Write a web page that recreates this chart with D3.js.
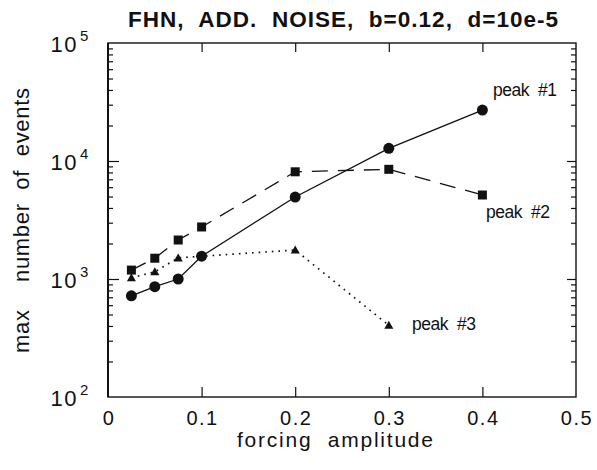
<!DOCTYPE html>
<html>
<head>
<meta charset="utf-8">
<script src="https://cdn.jsdelivr.net/npm/d3@7/dist/d3.min.js"></script>
<style>
  html, body { margin: 0; padding: 0; background: #fff; }
  svg { display: block; }
  text { font-family: "Liberation Sans", Arial, Helvetica, sans-serif; fill: #111; }
</style>
</head>
<body>
<svg id="chart" width="597" height="470"></svg>
<script>
// ---- data ----
const forcing = [0.025, 0.05, 0.075, 0.1, 0.2, 0.3, 0.4];
const peak1 = [720, 860, 1000, 1560, 4950, 12800, 27000];
const peak2 = [1190, 1500, 2140, 2760, 8100, 8500, 5150];
const forcing3 = [0.025, 0.05, 0.075, 0.1, 0.2, 0.3];
const peak3 = [1025, 1150, 1510, 1560, 1760, 405];
const xTicks = [0, 0.1, 0.2, 0.3, 0.4, 0.5];
const xTickLabels = ["0", "0.1", "0.2", "0.3", "0.4", "0.5"];
const yDecades = [100, 1000, 10000, 100000];
const yExponents = ["2", "3", "4", "5"];
const seriesNames = ["peak  #1", "peak  #2", "peak  #3"];
const titleText = "FHN,  ADD.  NOISE,  b=0.12,  d=10e-5";
const xLabel = "forcing  amplitude";
const yLabelA = "max";
const yLabelB = "number  of  events";

// ---- layout ----
const L = 108, R = 576, T = 43, B = 397;
const svg = d3.select("#chart");
const x = d3.scaleLinear().domain([0, 0.5]).range([L, R]);
const y = d3.scaleLog().domain([100, 100000]).range([B, T]);

const ink = "#111";

// minor ticks values
const minorVals = [];
for (let d = 100; d < 100000; d *= 10) for (let k = 2; k <= 9; k++) minorVals.push(d * k);

// frame
svg.append("rect").attr("x", L).attr("y", T).attr("width", R - L).attr("height", B - T)
  .attr("fill", "none").attr("stroke", ink).attr("stroke-width", 1.4);
svg.append("line").attr("x1", L).attr("x2", L).attr("y1", T).attr("y2", B)
  .attr("stroke", ink).attr("stroke-width", 2);

// x ticks bottom & top (inward)
const xInner = [0.1, 0.2, 0.3, 0.4];
const gxb = svg.append("g").attr("transform", `translate(0,${B})`)
  .call(d3.axisBottom(x).tickValues(xInner).tickSize(-10).tickFormat(""));
const gxt = svg.append("g").attr("transform", `translate(0,${T})`)
  .call(d3.axisTop(x).tickValues(xInner).tickSize(-9).tickFormat(""));
// y ticks left & right (inward)
const gyl = svg.append("g").attr("transform", `translate(${L},0)`)
  .call(d3.axisLeft(y).tickValues([1000, 10000]).tickSize(-11).tickFormat(""));
const gylm = svg.append("g").attr("transform", `translate(${L},0)`)
  .call(d3.axisLeft(y).tickValues(minorVals).tickSize(-5).tickFormat(""));
const gyr = svg.append("g").attr("transform", `translate(${R},0)`)
  .call(d3.axisRight(y).tickValues([1000, 10000]).tickSize(-9).tickFormat(""));
const gyrm = svg.append("g").attr("transform", `translate(${R},0)`)
  .call(d3.axisRight(y).tickValues(minorVals).tickSize(-5).tickFormat(""));
[gxb, gxt, gyl, gylm, gyr, gyrm].forEach(g => {
  g.select(".domain").remove();
  g.selectAll("line").attr("stroke", ink).attr("stroke-width", 1.2);
});

// x tick labels
svg.append("g").selectAll("text").data(xTicks).join("text")
  .attr("x", d => x(d) + 1).attr("y", 425)
  .attr("text-anchor", "middle").attr("font-size", 20).attr("letter-spacing", 1.5)
  .text((d, i) => xTickLabels[i]);

// y tick labels: 10^n
const yl = svg.append("g");
yDecades.forEach((v, i) => {
  yl.append("text").attr("x", 78).attr("y", y(v) + 9)
    .attr("text-anchor", "end").attr("font-size", 22).attr("letter-spacing", 1.5).text("10");
  yl.append("text").attr("x", 80).attr("y", y(v) - 2)
    .attr("font-size", 15).text(yExponents[i]);
});

// title
svg.append("text").attr("x", 128).attr("y", 27)
  .attr("font-size", 22.5).attr("font-weight", "bold")
  .attr("xml:space", "preserve").style("white-space", "pre")
  .attr("textLength", 430).attr("lengthAdjust", "spacing")
  .text(titleText);

// x label
svg.append("text").attr("x", 237).attr("y", 447)
  .attr("font-size", 21).style("white-space", "pre")
  .attr("textLength", 196).attr("lengthAdjust", "spacing")
  .text(xLabel);

// y labels (rotated)
svg.append("text").attr("transform", "translate(29,353) rotate(-90)")
  .attr("font-size", 22).attr("textLength", 43).attr("lengthAdjust", "spacing")
  .text(yLabelA);
svg.append("text").attr("transform", "translate(29,282) rotate(-90)")
  .attr("font-size", 22).style("white-space", "pre")
  .attr("textLength", 194).attr("lengthAdjust", "spacing")
  .text(yLabelB);

// lines
const line = d3.line().x(d => x(d[0])).y(d => y(d[1]));
const s1 = forcing.map((f, i) => [f, peak1[i]]);
const s2 = forcing.map((f, i) => [f, peak2[i]]);
const s3 = forcing3.map((f, i) => [f, peak3[i]]);

svg.append("path").datum(s3).attr("d", line).attr("fill", "none")
  .attr("stroke", ink).attr("stroke-width", 1.7).attr("stroke-dasharray", "1.6,5")
  .attr("stroke-linecap", "butt");
svg.append("path").datum(s2).attr("d", line).attr("fill", "none")
  .attr("stroke", ink).attr("stroke-width", 1.3).attr("stroke-dasharray", "16,10");
svg.append("path").datum(s1).attr("d", line).attr("fill", "none")
  .attr("stroke", ink).attr("stroke-width", 1.3);

// markers
svg.append("g").selectAll("path").data(s3).join("path")
  .attr("d", d => {
    const cx = x(d[0]), cy = y(d[1]);
    return `M${cx},${cy - 4.5}L${cx + 4.5},${cy + 3.5}L${cx - 4.5},${cy + 3.5}Z`;
  }).attr("fill", ink);
svg.append("g").selectAll("rect").data(s2).join("rect")
  .attr("x", d => x(d[0]) - 4.5).attr("y", d => y(d[1]) - 4.5)
  .attr("width", 9).attr("height", 9).attr("fill", ink);
svg.append("g").selectAll("circle").data(s1).join("circle")
  .attr("cx", d => x(d[0])).attr("cy", d => y(d[1])).attr("r", 5.5).attr("fill", ink);

// series labels
const labelPos = [[493, 96], [486, 218], [412, 330]];
svg.append("g").selectAll("text").data(seriesNames).join("text")
  .attr("x", (d, i) => labelPos[i][0]).attr("y", (d, i) => labelPos[i][1])
  .attr("font-size", 17.5).style("white-space", "pre")
  .attr("textLength", 64).attr("lengthAdjust", "spacing")
  .text(d => d);
</script>
</body>
</html>
